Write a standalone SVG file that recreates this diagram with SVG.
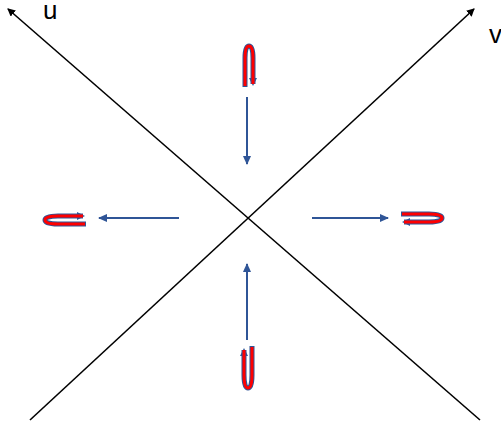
<svg xmlns="http://www.w3.org/2000/svg" width="501" height="424" viewBox="0 0 501 424">
<defs>
<style>
.axis{stroke:#000;stroke-width:1.6;fill:none}
.flow{stroke:#2F5597;stroke-width:2;fill:none}
.loopo{stroke:#2F5597;stroke-width:5;fill:none;stroke-linecap:butt}
.loopi{stroke:#FF0000;stroke-width:3;fill:none;stroke-linecap:butt}
.lbl{font-family:"Liberation Sans",Arial,sans-serif;font-size:26px;fill:#000}
</style>
<marker id="ah" markerWidth="8" markerHeight="8" refX="7" refY="4" orient="auto" markerUnits="userSpaceOnUse"><path d="M0,0 L8,4 L0,8 Z" fill="#000"/></marker>
<marker id="bh" markerWidth="9" markerHeight="8" refX="8" refY="4" orient="auto" markerUnits="userSpaceOnUse"><path d="M0,0 L9,4 L0,8 Z" fill="#2F5597"/></marker>
<marker id="lh" markerWidth="8" markerHeight="8" refX="6" refY="4" orient="auto" markerUnits="userSpaceOnUse"><path d="M0,0 L8,4 L0,8 Z" fill="#2F5597"/></marker>
</defs>
<g id="axes">
<line class="axis" x1="480" y1="420" x2="8" y2="9" marker-end="url(#ah)"/>
<line class="axis" x1="30" y1="420" x2="474" y2="9" marker-end="url(#ah)"/>
</g>
<g id="label-u"><text class="lbl" x="43" y="19">u</text></g>
<g id="label-v"><text class="lbl" x="489" y="43">v</text></g>
<g id="connectors">
<line class="flow" x1="247" y1="97" x2="247" y2="164" marker-end="url(#bh)"/>
<line class="flow" x1="179" y1="218" x2="99" y2="218" marker-end="url(#bh)"/>
<line class="flow" x1="312" y1="218" x2="388" y2="218" marker-end="url(#bh)"/>
<line class="flow" x1="247" y1="340" x2="247" y2="264" marker-end="url(#bh)"/>
</g>
<g id="loop-top">
<path class="loopo" d="M245,87 L245,58 Q245,46 249,46 Q253,46 253,58 L253,84" marker-end="url(#lh)"/>
<path class="loopi" d="M245,86 L245,58 Q245,46 249,46 Q253,46 253,58 L253,84"/>
</g>
<g id="loop-left">
<path class="loopo" d="M86,224 L58,224 Q45,224 45,220 Q45,216 58,216 L83,216" marker-end="url(#lh)"/>
<path class="loopi" d="M85,224 L58,224 Q45,224 45,220 Q45,216 58,216 L83,216"/>
</g>
<g id="loop-right">
<path class="loopo" d="M401,214 L429,214 Q442,214 442,218 Q442,222 429,222 L404,222" marker-end="url(#lh)"/>
<path class="loopi" d="M402,214 L429,214 Q442,214 442,218 Q442,222 429,222 L404,222"/>
</g>
<g id="loop-bottom">
<path class="loopo" d="M252,346 L252,375 Q252,388 248,388 Q244,388 244,375 L244,350" marker-end="url(#lh)"/>
<path class="loopi" d="M252,347 L252,375 Q252,388 248,388 Q244,388 244,375 L244,350"/>
</g>
</svg>
